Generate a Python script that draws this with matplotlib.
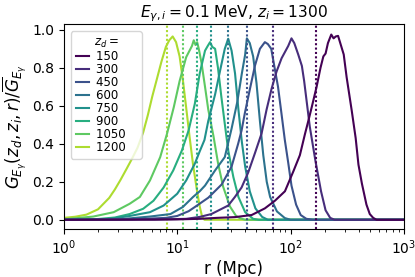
import matplotlib
matplotlib.use("Agg")
import matplotlib.pyplot as plt
import numpy as np

z_d = [150, 300, 450, 600, 750, 900, 1050, 1200]

r_150 = [1.0, 6.31, 10.0, 15.8, 22.4, 32.3, 45.4, 59.4, 72.8, 89.3, 106, 121, 134, 145, 155, 170, 184, 195, 204, 214,
         229, 240, 251, 263, 275, 295, 313, 347, 376, 398, 427, 468, 501, 537, 575, 1000]
g_150 = [0.0, 0.001, 0.002, 0.005, 0.01, 0.014, 0.025, 0.06, 0.10, 0.15, 0.255, 0.34, 0.45, 0.53, 0.60, 0.70, 0.80, 0.86,
         0.875, 0.93, 0.975, 0.955, 0.965, 0.968, 0.93, 0.87, 0.75, 0.575, 0.43, 0.29, 0.19, 0.08, 0.03, 0.01, 0.0, 0.0]

r_300 = [1.0, 6.31, 12.0, 15.8, 20.0, 28.2, 32.3, 37.0, 42.4, 48.5, 55.6, 61.5, 68.1, 75.3, 83.4, 95.5, 102, 108, 117,
         126, 132, 148, 166, 186, 204, 224, 245, 1000]
g_300 = [0.0, 0.001, 0.005, 0.015, 0.03, 0.075, 0.12, 0.17, 0.25, 0.35, 0.455, 0.58, 0.69, 0.78, 0.85, 0.915, 0.955,
         0.93, 0.87, 0.81, 0.73, 0.49, 0.31, 0.15, 0.05, 0.01, 0.0, 0.0]

r_450 = [1.0, 3.98, 7.94, 10.0, 12.6, 14.3, 18.8, 24.7, 30.2, 34.5, 37.0, 39.5, 43.9, 48.5, 53.7, 59.4, 63.1, 67.6,
         72.4, 77.6, 83.2, 89.1, 95.5, 102, 112, 123, 138, 158, 1000]
g_450 = [0.0, 0.002, 0.01, 0.02, 0.045, 0.067, 0.116, 0.186, 0.28, 0.40, 0.47, 0.56, 0.69, 0.81, 0.90, 0.935, 0.925,
         0.90, 0.80, 0.70, 0.56, 0.42, 0.30, 0.18, 0.08, 0.025, 0.005, 0.0, 0.0]

r_600 = [1.0, 3.16, 5.75, 8.71, 11.2, 13.8, 15.8, 17.6, 21.6, 26.3, 30.2, 33.9, 37.2, 39.8, 41.2, 43.7, 46.8, 50.1,
         53.7, 57.5, 61.7, 66.1, 75.9, 89.1, 100, 1000]
g_600 = [0.0, 0.003, 0.017, 0.03, 0.067, 0.12, 0.15, 0.18, 0.26, 0.33, 0.48, 0.62, 0.77, 0.87, 0.955, 0.93, 0.86, 0.72,
         0.52, 0.34, 0.20, 0.12, 0.044, 0.009, 0.0, 0.0]

r_750 = [1.0, 2.51, 3.80, 5.75, 7.59, 10.0, 12.0, 14.3, 15.8, 17.4, 18.8, 21.6, 24.0, 26.3, 28.2, 30.2, 32.4, 34.7,
         37.2, 39.8, 43.7, 49.0, 56.2, 63.1, 1000]
g_750 = [0.0, 0.004, 0.02, 0.04, 0.075, 0.137, 0.207, 0.295, 0.36, 0.42, 0.52, 0.66, 0.79, 0.90, 0.953, 0.89, 0.77,
         0.58, 0.41, 0.28, 0.15, 0.06, 0.015, 0.0, 0.0]

r_900 = [1.0, 2.0, 2.82, 3.80, 5.01, 6.17, 7.59, 9.23, 11.0, 12.6, 14.3, 15.8, 17.6, 18.6, 19.5, 20.4, 21.6, 22.9,
         24.5, 26.3, 28.2, 31.3, 34.7, 39.8, 46.8, 52.5, 1000]
g_900 = [0.0, 0.004, 0.012, 0.03, 0.058, 0.10, 0.17, 0.26, 0.365, 0.47, 0.61, 0.77, 0.89, 0.915, 0.935, 0.91, 0.90,
         0.80, 0.65, 0.505, 0.365, 0.225, 0.12, 0.04, 0.005, 0.0, 0.0]

r_1050 = [1.0, 1.82, 2.75, 3.80, 4.68, 5.75, 7.08, 8.13, 9.33, 10.5, 12.0, 13.5, 14.0, 14.5, 15.0, 15.5, 16.4, 17.6,
          18.8, 20.9, 22.9, 25.4, 29.2, 33.1, 35.9, 39.8, 1000]
g_1050 = [0.002, 0.017, 0.04, 0.084, 0.12, 0.207, 0.33, 0.453, 0.593, 0.73, 0.856, 0.915, 0.945, 0.92, 0.935, 0.90,
          0.825, 0.70, 0.58, 0.44, 0.30, 0.175, 0.07, 0.02, 0.008, 0.0, 0.0]

r_1200 = [1.0, 1.26, 1.58, 2.0, 2.51, 2.82, 3.16, 3.55, 3.98, 4.47, 5.01, 5.50, 6.03, 6.61, 7.24, 7.94, 8.51, 9.12,
          9.77, 10.5, 11.2, 12.0, 12.9, 13.8, 14.8, 15.8, 16.6, 17.4, 1000]
g_1200 = [0.010, 0.016, 0.027, 0.055, 0.115, 0.16, 0.21, 0.265, 0.32, 0.38, 0.46, 0.55, 0.65, 0.74, 0.83, 0.91, 0.945,
          0.965, 0.935, 0.86, 0.74, 0.59, 0.43, 0.29, 0.17, 0.07, 0.015, 0.0, 0.0]

r_mark = [167, 70.3, 41.0, 27.9, 19.9, 15.0, 11.2, 8.05]

r_all = [r_150, r_300, r_450, r_600, r_750, r_900, r_1050, r_1200]
g_all = [g_150, g_300, g_450, g_600, g_750, g_900, g_1050, g_1200]

cmap = plt.get_cmap("viridis")
colors = [cmap(i / 8) for i in range(8)]

fig = plt.figure(figsize=(4.15, 2.77), dpi=100)
ax = fig.add_axes([0.154, 0.173, 0.819, 0.740])

handles = [None] * 8
for i in reversed(range(8)):
    ln, = ax.plot(r_all[i], g_all[i], color=colors[i], lw=1.5, label=str(z_d[i]) + "   ")
    handles[i] = ln
    ax.axvline(r_mark[i], color=colors[i], lw=1.5, linestyle=(0, (1, 1.1)))

ax.set_xscale("log")
ax.set_xlim(1, 1000)
ax.set_ylim(-0.049, 1.03)
ax.set_yticks([0.0, 0.2, 0.4, 0.6, 0.8, 1.0])
ax.tick_params(labelsize=10)
ax.set_xlabel("r (Mpc)", fontsize=12, labelpad=2)
ax.set_ylabel(r"$G_{E_\gamma}(z_d, z_i, r)/\overline{G}_{E_\gamma}$", fontsize=12, labelpad=2)
ax.set_title(r"$E_{\gamma,i} = 0.1$ MeV, $z_i = 1300$", fontsize=11.2, pad=3)

leg = ax.legend(handles=handles, title=r"$z_d=$", loc="upper left", fontsize=8.5, title_fontsize=8.5,
                labelspacing=0.0, handlelength=1.1, handletextpad=0.6, borderpad=0.4,
                bbox_to_anchor=(0.0, 1.0), borderaxespad=0.6)

fig.savefig("out.png", dpi=100)
